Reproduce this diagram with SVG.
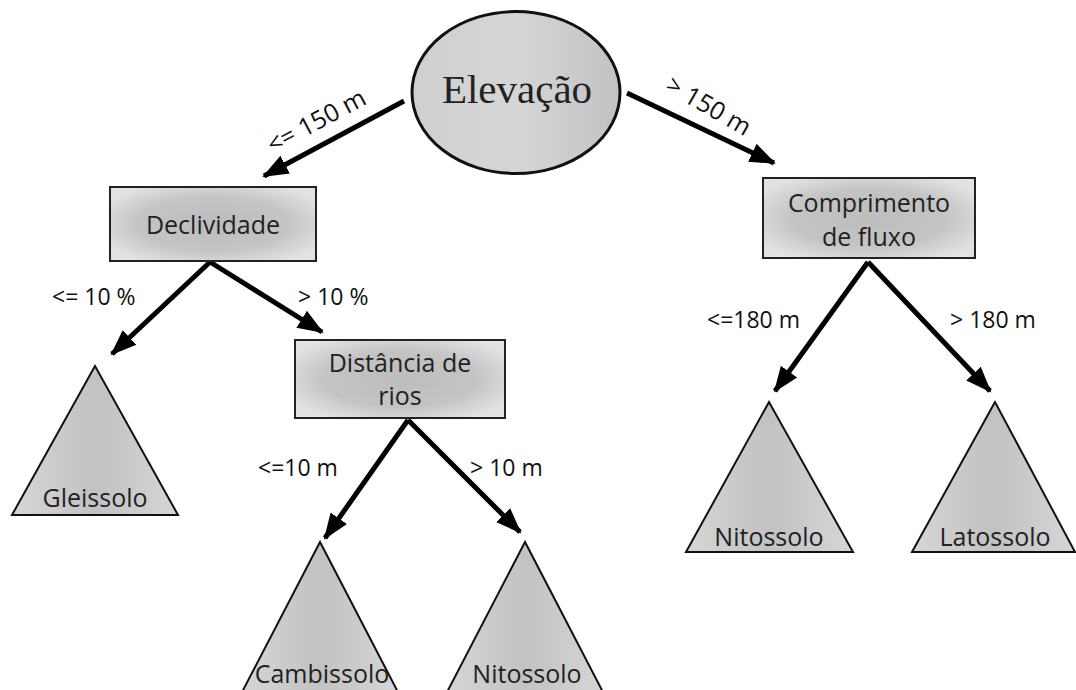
<svg xmlns="http://www.w3.org/2000/svg" width="1076" height="690" viewBox="0 0 1076 690">
<defs>
<style>
.lbl{font-family:"Open Sans","Liberation Sans",sans-serif;font-size:23px;fill:#111}
.nt{font-family:"Open Sans","Liberation Sans",sans-serif;font-size:25px;fill:#222;text-anchor:middle}
.box{fill:url(#gbox);stroke:#222;stroke-width:2}
.tri{fill:url(#gtri);stroke:#111;stroke-width:2}
.arr{stroke:#000;stroke-width:5;fill:none;marker-end:url(#ah)}
</style>
<radialGradient id="gbox" cx="0.5" cy="0.5" r="0.6">
<stop offset="0" stop-color="#bdbdbd"/><stop offset="0.6" stop-color="#c4c4c4"/><stop offset="1" stop-color="#e2e2e2"/>
</radialGradient>
<linearGradient id="gtri" x1="0" y1="0" x2="1" y2="0">
<stop offset="0" stop-color="#d6d6d6"/><stop offset="0.5" stop-color="#c2c2c2"/><stop offset="1" stop-color="#d6d6d6"/>
</linearGradient>
<linearGradient id="gell" x1="0" y1="0" x2="1" y2="0">
<stop offset="0" stop-color="#cfcfcf"/><stop offset="0.5" stop-color="#d6d6d6"/><stop offset="1" stop-color="#c2c2c2"/>
</linearGradient>
<marker id="ah" markerUnits="userSpaceOnUse" markerWidth="28" markerHeight="24" refX="24" refY="12" orient="auto">
<path d="M0,2 L26,12 L0,22 Z" fill="#000"/>
</marker>
</defs>
<rect width="1076" height="690" fill="#fff"/>

<g id="connectors">
<line class="arr" x1="404" y1="101" x2="264" y2="176"/>
<line class="arr" x1="627" y1="93" x2="774" y2="163"/>
<line class="arr" x1="210" y1="262" x2="112" y2="354"/>
<line class="arr" x1="210" y1="262" x2="322" y2="332"/>
<line class="arr" x1="408" y1="420" x2="325" y2="538"/>
<line class="arr" x1="408" y1="420" x2="520" y2="532"/>
<line class="arr" x1="868" y1="262" x2="775" y2="391"/>
<line class="arr" x1="868" y1="262" x2="990" y2="391"/>
<text class="lbl" transform="translate(273,154) rotate(-28)" style="font-size:25px">&lt;= 150 m</text>
<text class="lbl" transform="translate(664,90) rotate(30)" style="font-size:25px">&gt; 150 m</text>
<text class="lbl" x="52" y="305">&lt;= 10 %</text>
<text class="lbl" x="298" y="305">&gt; 10 %</text>
<text class="lbl" x="258" y="476">&lt;=10 m</text>
<text class="lbl" x="470" y="476">&gt; 10 m</text>
<text class="lbl" x="707" y="328">&lt;=180 m</text>
<text class="lbl" x="950" y="328">&gt; 180 m</text>
</g>

<g id="elevacao">
<ellipse cx="516" cy="92.5" rx="104" ry="81" fill="url(#gell)" stroke="#111" stroke-width="3"/>
<text x="517" y="103" text-anchor="middle" style="font-family:'Liberation Serif',serif;font-size:41px;fill:#222">Elevação</text>
</g>

<g id="declividade">
<rect class="box" x="110" y="187" width="206" height="74"/>
<text class="nt" x="213" y="234">Declividade</text>
</g>

<g id="distancia">
<rect class="box" x="295" y="340" width="210" height="78"/>
<text class="nt" x="400" y="372">Distância de</text>
<text class="nt" x="400" y="405">rios</text>
</g>

<g id="comprimento">
<rect class="box" x="763" y="178" width="212" height="80"/>
<text class="nt" x="869" y="212">Comprimento</text>
<text class="nt" x="869" y="246">de fluxo</text>
</g>

<g id="gleissolo">
<polygon class="tri" points="95,366 12,515 178,515"/>
<text class="nt" x="95" y="507">Gleissolo</text>
</g>

<g id="cambissolo">
<polygon class="tri" points="320,542 240,696 400,696"/>
<text class="nt" x="322" y="683">Cambissolo</text>
</g>

<g id="nitossolo1">
<polygon class="tri" points="525,542 445,696 605,696"/>
<text class="nt" x="527" y="683">Nitossolo</text>
</g>

<g id="nitossolo2">
<polygon class="tri" points="769,402 686,552 853,552"/>
<text class="nt" x="769" y="546">Nitossolo</text>
</g>

<g id="latossolo">
<polygon class="tri" points="995,402 912,552 1075,552"/>
<text class="nt" x="995" y="546">Latossolo</text>
</g>
</svg>
